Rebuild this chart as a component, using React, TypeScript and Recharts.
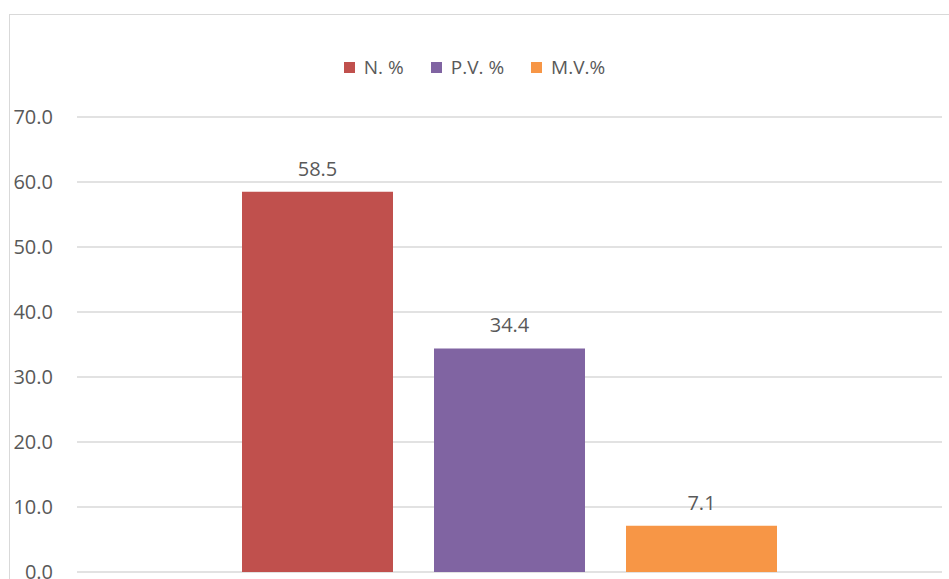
import React from 'react';
import { BarChart, Bar, YAxis, XAxis, CartesianGrid, Legend, LabelList } from 'recharts';

const categories = [''];
const nValues = [58.5];
const pvValues = [34.4];
const mvValues = [7.1];
const seriesNames = ['N. %', 'P.V. %', 'M.V.%'];
const seriesColors = ['#C0504D', '#8064A2', '#F79646'];
const yTicks = [0, 10, 20, 30, 40, 50, 60, 70];

const data = categories.map((c, i) => ({ name: c, n: nValues[i], pv: pvValues[i], mv: mvValues[i] }));

const FONT = '"Open Sans", "Segoe UI", sans-serif';
const TEXT = '#595959';

const renderLegend = (props: any) => {
  const payload = [...(props.payload || [])].sort(
    (a: any, b: any) => seriesNames.indexOf(a.value) - seriesNames.indexOf(b.value)
  );
  return (
    <div style={{ display: 'flex', justifyContent: 'center', alignItems: 'center', fontFamily: FONT, fontSize: 19, color: TEXT, lineHeight: '24px' }}>
      {payload.map((p: any, i: number) => (
        <div key={i} style={{ display: 'flex', alignItems: 'center', marginLeft: i === 0 ? 0 : 27 }}>
          <div style={{ width: 11, height: 11, background: p.color, marginRight: 9 }} />
          <span>{p.value}</span>
        </div>
      ))}
    </div>
  );
};

export default function App() {
  return (
    <div style={{ position: 'absolute', left: 0, top: 0, width: 949, height: 579, overflow: 'hidden', background: '#fff' }}>
      <div style={{ position: 'absolute', left: 9, top: 14, width: 1200, height: 1200, border: '1px solid #d9d9d9', boxSizing: 'border-box' }} />
      <div style={{ position: 'absolute', left: 0, top: 0 }}>
        <BarChart
          width={949}
          height={579}
          data={data}
          margin={{ top: 117, right: 7, left: 0, bottom: 7 }}
          barCategoryGap={165}
          barGap={41}
        >
          <CartesianGrid horizontal vertical={false} stroke="#d9d9d9" strokeWidth={1.3} />
          <XAxis dataKey="name" hide />
          <YAxis
            width={77}
            domain={[0, 70]}
            ticks={yTicks}
            axisLine={false}
            tickLine={false}
            tickSize={0}
            tickMargin={24}
            tickFormatter={(v: number) => v.toFixed(1)}
            tick={{ fill: TEXT, fontSize: 20, fontFamily: FONT }}
            interval={0}
          />
          <Legend
            verticalAlign="middle"
            layout="horizontal"
            content={renderLegend}
            wrapperStyle={{ top: 55, left: 0, width: 949 }}
          />
          <Bar dataKey="n" name={seriesNames[0]} fill={seriesColors[0]} isAnimationActive={false}>
            <LabelList dataKey="n" position="top" offset={16} formatter={(v: any) => Number(v).toFixed(1)} style={{ fill: TEXT, fontSize: 20, fontFamily: FONT }} />
          </Bar>
          <Bar dataKey="pv" name={seriesNames[1]} fill={seriesColors[1]} isAnimationActive={false}>
            <LabelList dataKey="pv" position="top" offset={16} formatter={(v: any) => Number(v).toFixed(1)} style={{ fill: TEXT, fontSize: 20, fontFamily: FONT }} />
          </Bar>
          <Bar dataKey="mv" name={seriesNames[2]} fill={seriesColors[2]} isAnimationActive={false}>
            <LabelList dataKey="mv" position="top" offset={16} formatter={(v: any) => Number(v).toFixed(1)} style={{ fill: TEXT, fontSize: 20, fontFamily: FONT }} />
          </Bar>
        </BarChart>
      </div>
    </div>
  );
}
